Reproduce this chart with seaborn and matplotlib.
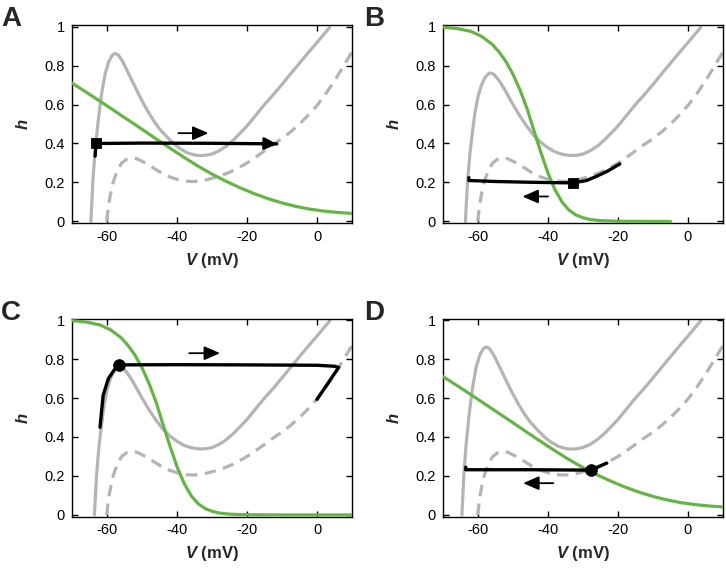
import numpy as np
import pandas as pd
import matplotlib
matplotlib.use('Agg')
import matplotlib.pyplot as plt
import seaborn as sns

sns.set_style('ticks')
plt.rcParams['font.family'] = ['Liberation Sans', 'DejaVu Sans']
plt.rcParams['mathtext.fontset'] = 'custom'
plt.rcParams['mathtext.it'] = 'Liberation Sans:italic:bold'
plt.rcParams['mathtext.rm'] = 'Liberation Sans:bold'

# ---------------- data ----------------
# V-nullcline, high peak (panels A, D)
solid_hi_V = [-64.6, -64.0, -63.4, -62.5, -61.5, -60.5, -59.5, -58.5, -57.7, -56.8, -55.5, -54.4,
              -52.5, -50.6, -48.5, -46.8, -45.0, -43.0, -41.0, -39.0, -37.0, -35.0, -33.5, -32.0,
              -30.0, -28.0, -26.0, -24.0, -22.0, -20.0, -17.5, -15.0, -12.5, -10.0, -7.5, -5.0,
              -2.5, 0.0, 2.5, 3.6]
solid_hi_h = [0.0, 0.22, 0.36, 0.52, 0.66, 0.76, 0.82, 0.853, 0.862, 0.855, 0.82, 0.78,
              0.71, 0.64, 0.57, 0.52, 0.475, 0.436, 0.40, 0.372, 0.352, 0.341, 0.338, 0.339,
              0.346, 0.362, 0.385, 0.416, 0.452, 0.49, 0.545, 0.60, 0.65, 0.703, 0.758, 0.812,
              0.866, 0.918, 0.972, 0.995]
# V-nullcline, low peak (panels B, C)
solid_lo_V = [-63.6, -63.0, -62.3, -61.5, -60.9, -60.0, -59.0, -58.0, -57.0, -56.5, -55.5, -54.5,
              -53.5, -52.0, -50.0, -48.0, -46.0, -44.0, -42.0, -40.0, -38.0, -36.0, -34.0, -32.0,
              -30.0, -28.0, -26.0, -24.0, -22.0, -20.0, -17.5, -15.0, -12.5, -10.0, -7.5, -5.0,
              -2.5, 0.0, 2.5, 3.6]
solid_lo_h = [0.0, 0.2, 0.35, 0.47, 0.556, 0.64, 0.70, 0.738, 0.758, 0.762, 0.755, 0.735,
              0.71, 0.665, 0.60, 0.54, 0.487, 0.44, 0.405, 0.378, 0.357, 0.345, 0.339, 0.339,
              0.346, 0.362, 0.385, 0.416, 0.452, 0.49, 0.545, 0.60, 0.65, 0.703, 0.758, 0.812,
              0.866, 0.918, 0.972, 0.995]
# dashed V-nullcline (all panels)
dash_V = [-60.1, -59.5, -59.1, -58.4, -57.7, -56.8, -55.8, -54.5, -53.0, -51.5, -49.0, -46.5,
          -44.4, -42.0, -39.6, -37.0, -35.0, -32.0, -28.2, -25.0, -22.5, -20.0, -17.5, -15.0,
          -12.5, -10.0, -7.5, -5.0, -2.5, 0.0, 2.5, 5.0, 7.5, 10.0]
dash_h = [0.0, 0.09, 0.13, 0.19, 0.23, 0.27, 0.30, 0.318, 0.325, 0.322, 0.30, 0.272,
          0.248, 0.228, 0.214, 0.206, 0.205, 0.212, 0.23, 0.252, 0.274, 0.30, 0.33, 0.362,
          0.395, 0.425, 0.46, 0.50, 0.545, 0.595, 0.655, 0.722, 0.795, 0.87]
# h-nullcline, shallow (panels A, D)
green_sh_V = [-70, -66, -62, -58, -54, -50, -46, -42, -38, -34, -30, -26, -22, -18, -14, -10,
              -6, -2, 2, 6, 10]
green_sh_h = [0.71, 0.664, 0.617, 0.569, 0.521, 0.473, 0.424, 0.376, 0.329, 0.284, 0.243, 0.206,
              0.173, 0.143, 0.117, 0.095, 0.077, 0.063, 0.053, 0.046, 0.041]
# h-nullcline, steep (panels B, C)
green_st_V = [-70, -66, -62, -59, -56, -54, -52, -50, -48, -46, -44, -42, -40, -38, -36, -34,
              -32, -30, -28, -25, -20, -10, -5, 0, 10]
green_st_h = [0.997, 0.99, 0.975, 0.95, 0.91, 0.87, 0.82, 0.755, 0.675, 0.58, 0.465, 0.352, 0.248,
              0.163, 0.1, 0.058, 0.033, 0.019, 0.01, 0.004, 0.001, 0.0, 0.0, 0.0, 0.0]
green_B_end = -5

# trajectories
trajA_V = [-63.4, -63.1, -50.0, -30.0, -11.5]
trajA_h = [0.335, 0.40, 0.402, 0.401, 0.398]
trajB_V = [-62.6, -62.6, -55.0, -45.0, -38.0, -32.9, -29.0, -26.2, -23.0, -19.5]
trajB_h = [0.225, 0.21, 0.205, 0.201, 0.199, 0.198, 0.21, 0.231, 0.258, 0.295]
trajC_V = [-62.0, -61.1, -59.6, -57.7, -56.5, -40.0, -20.0, 0.0, 5.0, 6.2, 0.0]
trajC_h = [0.45, 0.614, 0.70, 0.75, 0.77, 0.771, 0.770, 0.768, 0.763, 0.757, 0.593]
trajD_V = [-63.5, -63.5, -45.0, -27.8, -23.2]
trajD_h = [0.245, 0.232, 0.232, 0.230, 0.266]

# markers: (V, h, shape)
markers = {'A': (-63.1, 0.40, 's'), 'B': (-32.9, 0.198, 's'),
           'C': (-56.5, 0.77, 'o'), 'D': (-27.8, 0.230, 'o')}
# direction arrows: (V_start, V_end, h)
arrows = {'A': (-39.6, -31.0, 0.453), 'B': (-40.0, -47.3, 0.128),
          'C': (-36.5, -27.7, 0.83), 'D': (-38.5, -47.1, 0.163)}
# end-of-trajectory arrowhead in A
tipA = (-14.0, 0.399, -11.5, 0.398)

xticks = [-60, -40, -20, 0]
xticklabels = ['-60', '-40', '-20', '0']
yticks = [0, 0.2, 0.4, 0.6, 0.8, 1]
yticklabels = ['0', '0.2', '0.4', '0.6', '0.8', '1']

GRAY = '#b4b4b4'
GREEN = '#66b447'
LW = 2.3

W, H = 726, 573
fig = plt.figure(figsize=(W / 100, H / 100), dpi=100)

rects = {'A': (72, 25), 'B': (443, 25), 'C': (72, 318.5), 'D': (443, 318.5)}
aw, ah = 280, 198


def line(ax, x, y, **kw):
    sns.lineplot(x=x, y=y, sort=False, estimator=None, ax=ax, **kw)


for key, (px, py) in rects.items():
    ax = fig.add_axes([px / W, 1 - (py + ah) / H, aw / W, ah / H])
    if key in ('A', 'D'):
        sV, sh = solid_hi_V, solid_hi_h
        gV, gh = green_sh_V, green_sh_h
    else:
        sV, sh = solid_lo_V, solid_lo_h
        gV, gh = green_st_V, green_st_h
    if key == 'B':
        gsel = [(v, h) for v, h in zip(gV, gh) if v <= green_B_end]
        gV = [p[0] for p in gsel]
        gh = [p[1] for p in gsel]

    line(ax, sV, sh, color=GRAY, lw=LW, zorder=2)
    line(ax, dash_V, dash_h, color=GRAY, lw=LW, linestyle=(0, (3.6, 2.3)), zorder=2)
    line(ax, gV, gh, color=GREEN, lw=LW, zorder=3)

    tV, th = {'A': (trajA_V, trajA_h), 'B': (trajB_V, trajB_h),
              'C': (trajC_V, trajC_h), 'D': (trajD_V, trajD_h)}[key]
    line(ax, tV, th, color='black', lw=2.4, zorder=4)

    mV, mh, mk = markers[key]
    sns.scatterplot(x=[mV], y=[mh], marker=mk, color='black', s=70 if mk == 'o' else 55,
                    edgecolor='black', ax=ax, zorder=5)

    a0, a1, ahh = arrows[key]
    ax.annotate('', xy=(a1, ahh), xytext=(a0, ahh),
                arrowprops=dict(arrowstyle='-|>,head_length=0.8,head_width=0.35',
                                mutation_scale=12, color='black', lw=1.3,
                                shrinkA=0, shrinkB=0), zorder=6)
    if key == 'A':
        ax.annotate('', xy=(tipA[2], tipA[3]), xytext=(tipA[0], tipA[1]),
                    arrowprops=dict(arrowstyle='-|>,head_length=0.6,head_width=0.3',
                                    mutation_scale=12, color='black', lw=2.0,
                                    shrinkA=0, shrinkB=0), zorder=6)

    ax.set_xlim(-70, 10)
    ax.set_ylim(-0.008, 1.008)
    ax.set_xticks(xticks)
    ax.set_xticklabels(xticklabels)
    ax.set_yticks(yticks)
    ax.set_yticklabels(yticklabels)
    ax.tick_params(direction='in', length=4, width=1, top=True, right=True,
                   labelsize=10.5, colors='black', pad=5)
    for sp in ax.spines.values():
        sp.set_visible(True)
        sp.set_linewidth(1.0)
        sp.set_color('black')
    ax.set_xlabel(r'$V$ (mV)', fontsize=12, fontweight='bold', labelpad=5)
    ax.set_ylabel('h', fontsize=12, fontweight='bold', fontstyle='italic', labelpad=10)

    fig.text((1 if px < 100 else 364) / W, 1 - (py + 1) / H, key, fontsize=20,
             fontweight='bold', ha='left', va='baseline')

fig.savefig('out.png', dpi=100)
